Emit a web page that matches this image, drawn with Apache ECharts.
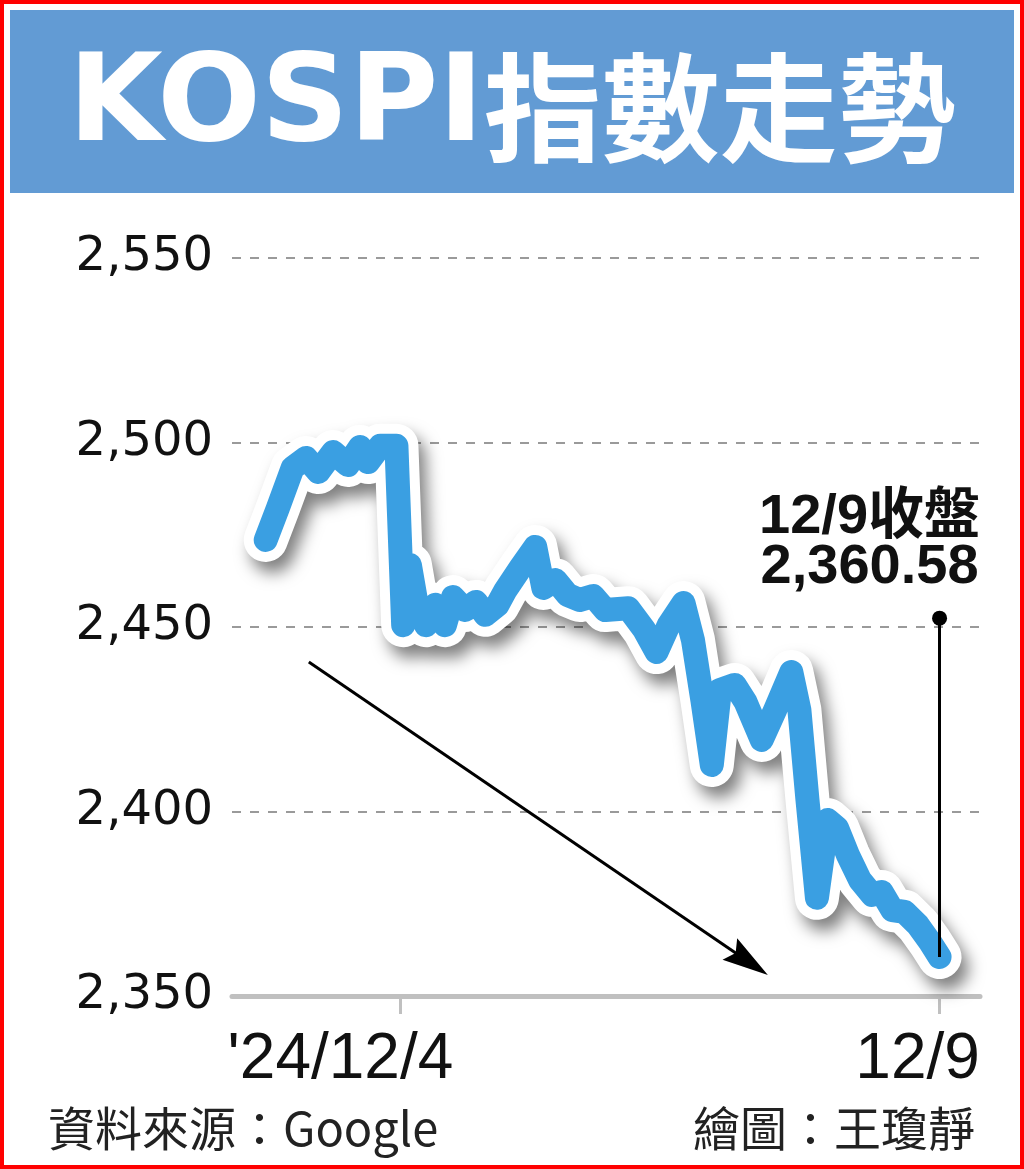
<!DOCTYPE html>
<html>
<head>
<meta charset="utf-8">
<title>KOSPI指數走勢</title>
<script src="https://cdn.jsdelivr.net/npm/echarts@6/dist/echarts.min.js"></script>
<style>
  html, body { margin: 0; padding: 0; background: #fff; }
  #myChart { width: 1024px; height: 1169px; }
</style>
</head>
<body>
<div id="myChart"></div>
<script>
// 時間軸以交易日計：0 = 12/3 開盤，1 = 12/4 開盤，5 = 12/9 收盤
var timeData = [
  0.00, 0.09, 0.20, 0.30, 0.39, 0.50, 0.61, 0.70, 0.76, 0.85, 0.97,
  1.02, 1.07, 1.13, 1.19, 1.26, 1.33, 1.39, 1.48, 1.56, 1.63, 1.72, 1.78, 1.89,
  2.00, 2.06, 2.15, 2.24, 2.33, 2.43, 2.52, 2.69, 2.81, 2.90,
  2.99, 3.10, 3.17, 3.24, 3.31, 3.37, 3.48, 3.56, 3.68, 3.78, 3.90, 3.96,
  4.02, 4.09, 4.17, 4.24, 4.32, 4.41, 4.50, 4.57, 4.65, 4.74, 4.84, 4.93, 5.00
];
var kospiData = [
  2473.6, 2482.2, 2493.1, 2495.8, 2492.0, 2497.4, 2493.9, 2498.8, 2494.7, 2499.1, 2499.1,
  2450.5, 2466.8, 2454.1, 2450.5, 2456.0, 2450.5, 2458.1, 2454.6, 2456.8, 2453.3, 2456.0, 2460.0, 2466.0,
  2471.7, 2460.6, 2462.7, 2458.7, 2457.3, 2458.4, 2454.6, 2455.1, 2449.2, 2443.2,
  2450.5, 2456.5, 2446.5, 2430.2, 2412.6, 2432.9, 2434.3, 2429.7, 2419.4, 2427.5, 2437.8, 2427.5,
  2403.1, 2376.6, 2397.7, 2395.5, 2388.2, 2381.4, 2377.4, 2378.2, 2373.3, 2372.8, 2369.2, 2364.6, 2360.58
];

// 刻度
var xTickValues = [1, 5];
var xTickLabels = ["'24/12/4", "12/9"];
var yMin = 2350, yMax = 2550, yStep = 50;

// 收盤標註與趨勢箭頭
var closeValue = 2360.58;
var calloutTop = 2452.4;
var arrowFrom = [0.32, 2440.5];
var arrowTo = [3.585, 2359.2];

var seriesData = [];
for (var i = 0; i < timeData.length; i++) {
  seriesData.push([timeData[i], kospiData[i]]);
}

function fmt(v, d) {
  return Number(v).toLocaleString('en-US', { minimumFractionDigits: d || 0, maximumFractionDigits: d || 0 });
}

// 細長箭頭（外框補成正方形，避免被拉寬）
var arrowHead = 'path://M-23,0M23,46M0,0L13,46L0,39L-13,46Z';

var myChart = echarts.init(document.getElementById('myChart'));

var option = {
  backgroundColor: '#fff',
  animation: false,
  title: {
    text: '{a|KOSPI}{b|指數走勢}',
    left: 'center',
    top: 38,
    textStyle: {
      rich: {
        a: { fontFamily: 'DejaVu Sans', fontWeight: 'bold', fontSize: 122, color: '#fff', lineHeight: 130 },
        b: { fontFamily: 'Noto Sans CJK TC', fontWeight: 'bold', fontSize: 118, color: '#fff', lineHeight: 130 }
      }
    }
  },
  graphic: [
    { type: 'rect', z: -1, shape: { x: 10, y: 10, width: 1004, height: 183 }, style: { fill: '#629bd4' } },
    { type: 'rect', z: 100, shape: { x: 0, y: 0, width: 1024, height: 1169 }, style: { fill: 'none', stroke: '#ff0000', lineWidth: 8 } },
    { type: 'text', left: 48, top: 1105, style: { text: '資料來源：Google', font: '47px "Noto Sans CJK TC"', fill: '#222' } },
    { type: 'text', right: 49, top: 1105, style: { text: '繪圖：王瓊靜', font: '47px "Noto Sans CJK TC"', fill: '#222' } }
  ],
  grid: { left: 232, right: 44, top: 258, bottom: 173 },
  xAxis: {
    type: 'value',
    min: -0.25,
    max: 5.3,
    axisLine: { onZero: false, lineStyle: { color: '#c0c0c0', width: 5 } },
    axisTick: { show: true, customValues: xTickValues, length: 18, lineStyle: { color: '#c0c0c0', width: 3 } },
    axisLabel: {
      customValues: xTickValues,
      margin: 32,
      formatter: function (v) {
        var idx = xTickValues.indexOf(v);
        return '{s' + idx + '|' + xTickLabels[idx] + '}';
      },
      rich: {
        s0: { fontFamily: 'Liberation Sans', fontSize: 64, color: '#111', padding: [0, 120, 0, 0] },
        s1: { fontFamily: 'Liberation Sans', fontSize: 64, color: '#111', padding: [0, 44, 0, 0] }
      }
    },
    splitLine: { show: false }
  },
  yAxis: {
    type: 'value',
    min: yMin,
    max: yMax,
    interval: yStep,
    axisLine: { show: false },
    axisTick: { show: false },
    axisLabel: {
      margin: 19,
      fontFamily: 'DejaVu Sans',
      fontSize: 48,
      color: '#111',
      formatter: function (v) { return fmt(v); }
    },
    splitLine: { lineStyle: { type: [9, 9], color: '#9a9a9a', width: 2 } }
  },
  series: [
    {
      // 標註用：收盤直線、圓點與趨勢箭頭
      type: 'line',
      z: 1,
      silent: true,
      data: [[5, closeValue]],
      showSymbol: false,
      lineStyle: { opacity: 0 },
      markLine: {
        silent: true,
        symbol: ['none', 'none'],
        label: { show: false },
        lineStyle: { color: '#000', width: 3, type: 'solid' },
        data: [
          [{ coord: [5, calloutTop] }, { coord: [5, closeValue] }],
          [{ coord: arrowFrom, symbol: 'none' }, { coord: arrowTo, symbol: arrowHead, symbolSize: 46 }]
        ]
      },
      markPoint: {
        silent: true,
        symbol: 'circle',
        symbolSize: 15,
        itemStyle: { color: '#000' },
        label: {
          show: true,
          position: 'top',
          distance: 18,
          offset: [-70, 0],
          align: 'center',
          formatter: '12/9收盤\n' + fmt(closeValue, 2),
          fontFamily: 'Liberation Sans, Noto Sans CJK TC',
          fontWeight: 'bold',
          fontSize: 56,
          lineHeight: 50,
          color: '#111'
        },
        data: [{ coord: [5, calloutTop] }]
      }
    },
    {
      // 白色外框與陰影
      type: 'line',
      z: 2,
      silent: true,
      data: seriesData,
      showSymbol: false,
      lineStyle: {
        width: 44, color: '#fff', cap: 'round', join: 'round',
        shadowColor: 'rgba(0,0,0,0.5)', shadowBlur: 16, shadowOffsetX: 7, shadowOffsetY: 11
      }
    },
    {
      type: 'line',
      z: 3,
      silent: true,
      data: seriesData,
      showSymbol: false,
      lineStyle: { width: 24, color: '#3a9fe2', cap: 'round', join: 'round' }
    }
  ]
};

myChart.setOption(option);
</script>
</body>
</html>
